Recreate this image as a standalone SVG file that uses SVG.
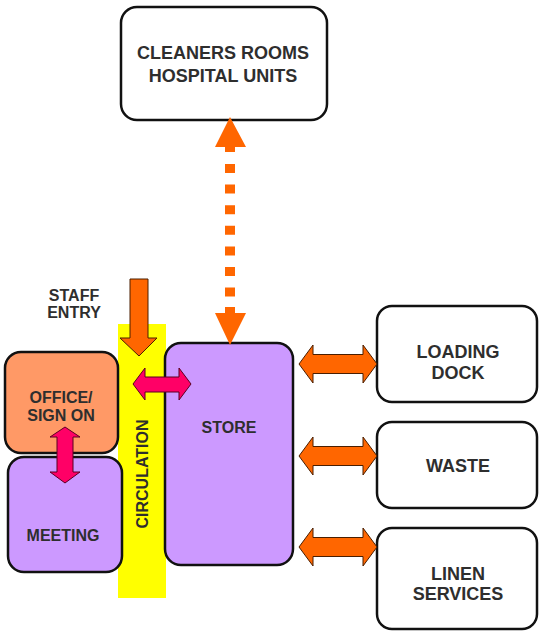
<svg xmlns="http://www.w3.org/2000/svg" width="539" height="631" viewBox="0 0 539 631">
<style>
.box{stroke:#111;stroke-width:2.5}
.t{font-family:"Liberation Sans",Arial,sans-serif;font-weight:bold;font-size:18px;fill:#2e2e2e;text-anchor:middle}
.s{font-size:16px}
.or{fill:#ff6600;stroke:#4a1e00;stroke-width:1}
.pk{fill:#ff0066;stroke:#5a0020;stroke-width:1}
</style>
<rect width="539" height="631" fill="#fff"/>
<g id="circulation">
<rect x="118" y="324" width="48" height="274" fill="#ffff00"/>
<text class="t s" transform="translate(148,474) rotate(-90)">CIRCULATION</text>
</g>
<g id="cleaners">
<rect class="box" x="121" y="7" width="206" height="113" rx="16" fill="#fff"/>
<text class="t" x="223" y="59">CLEANERS ROOMS</text>
<text class="t" x="223" y="82">HOSPITAL UNITS</text>
</g>
<g id="store">
<rect class="box" x="165" y="343" width="128" height="222" rx="16" fill="#cc99ff"/>
<text class="t s" x="229" y="433">STORE</text>
</g>
<g id="office">
<rect class="box" x="5" y="352" width="113" height="101" rx="16" fill="#ff9966"/>
<text class="t s" x="61" y="403">OFFICE/</text>
<text class="t s" x="61" y="421">SIGN ON</text>
</g>
<g id="meeting">
<rect class="box" x="8" y="457" width="114" height="115" rx="16" fill="#cc99ff"/>
<text class="t s" x="63" y="541">MEETING</text>
</g>
<g id="staff-entry">
<text class="t s" x="74" y="301">STAFF</text>
<text class="t s" x="74" y="318">ENTRY</text>
</g>
<g id="loading-dock">
<rect class="box" x="377" y="306" width="160" height="96" rx="15" fill="#fff"/>
<text class="t" x="458" y="358">LOADING</text>
<text class="t" x="458" y="379">DOCK</text>
</g>
<g id="waste">
<rect class="box" x="377" y="422" width="160" height="86" rx="15" fill="#fff"/>
<text class="t" x="458" y="472">WASTE</text>
</g>
<g id="linen">
<rect class="box" x="377" y="528" width="160" height="101" rx="15" fill="#fff"/>
<text class="t" x="458" y="580">LINEN</text>
<text class="t" x="458" y="600">SERVICES</text>
</g>
<g id="connectors">
<polygon fill="#ff6600" points="230,117 246,147 235,147 235,152 225,152 225,147 215,147"/>
<line x1="230" y1="164" x2="230" y2="297" stroke="#ff6600" stroke-width="10" stroke-dasharray="9 11.6"/>
<polygon fill="#ff6600" points="225,307 235,307 235,313 246,313 230,345 215,313 225,313"/>
<polygon class="or" points="130,279 148,279 148,338 157,338 139,356 120,338 130,338"/>
<polygon class="pk" points="133,384 145,368 145,377 179,377 179,368 191,384 179,400 179,392 145,392 145,400"/>
<polygon class="pk" points="65,427 80,437 73,437 73,472 80,472 65,483 50,472 57,472 57,437 50,437"/>
<polygon class="or" points="299,364 313,345 313,354.5 363,354.5 363,345 377,364 363,383 363,373.5 313,373.5 313,383"/>
<polygon class="or" points="299,456 313,437 313,446.5 363,446.5 363,437 377,456 363,475 363,465.5 313,465.5 313,475"/>
<polygon class="or" points="299,547 313,528 313,537.5 363,537.5 363,528 377,547 363,566 363,556.5 313,556.5 313,566"/>
</g>
</svg>
